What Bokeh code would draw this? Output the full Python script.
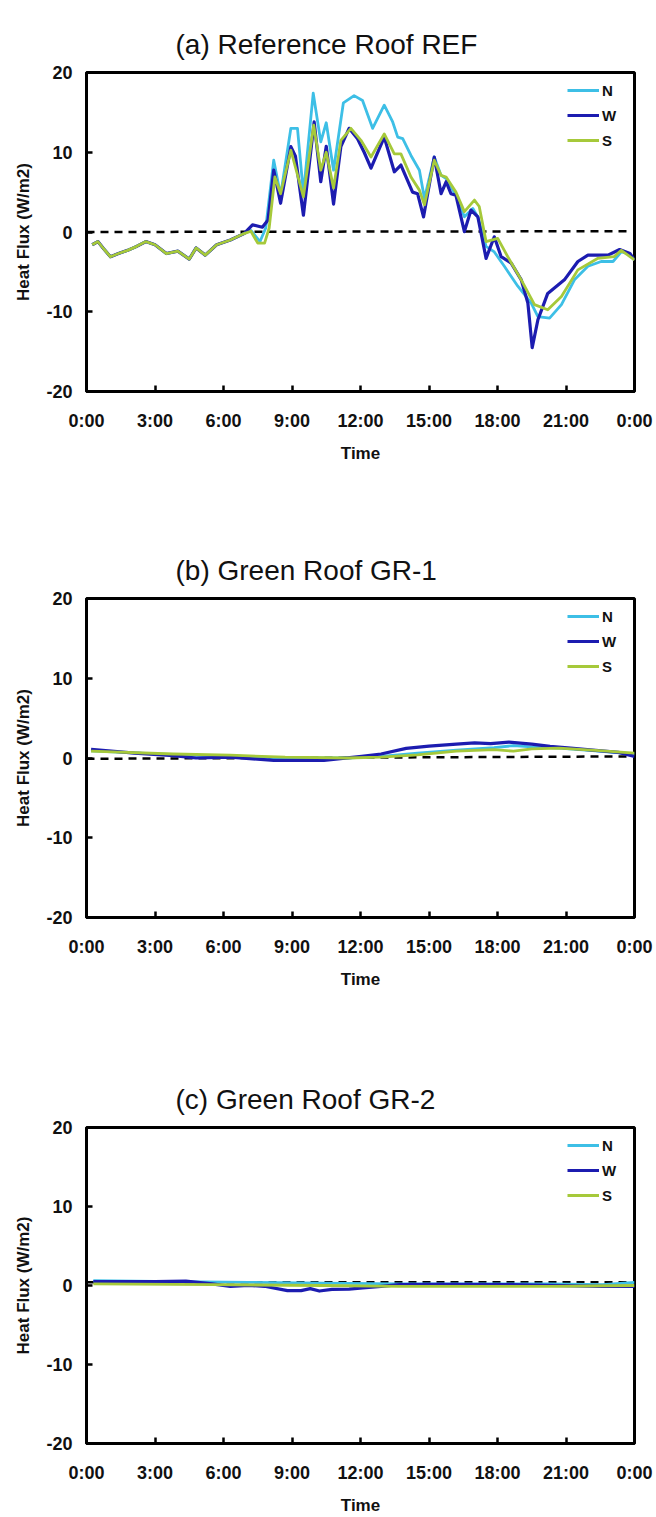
from bokeh.plotting import figure
from bokeh.layouts import column
from bokeh.models import FixedTicker
from bokeh.embed import file_html
from bokeh.resources import INLINE

FONT = "Liberation Sans"

# ---------------- data ----------------
tick_hours = [0, 3, 6, 9, 12, 15, 18, 21, 24]
tick_labels = ["0:00", "3:00", "6:00", "9:00", "12:00", "15:00", "18:00", "21:00", "0:00"]
y_ticks = [-20, -10, 0, 10, 20]
y_tick_labels = ["-20", "-10", "0", "10", "20"]
series_names = ["N", "W", "S"]
series_colors = ["#3DBFE6", "#1C1CB0", "#A6C93A"]
series_widths = [2.8, 3.2, 2.8]

titles = ["(a) Reference Roof REF", "(b) Green Roof GR-1", "(c) Green Roof GR-2"]

# night part of panel (a), common to the three sensors
night_t = [0.25, 0.5, 0.75, 1.05, 1.4, 1.8, 2.2, 2.6, 3.0, 3.5, 4.0, 4.5, 4.8, 5.2, 5.7, 6.3, 6.9]
night_v = [-1.6, -1.2, -2.1, -3.1, -2.7, -2.3, -1.8, -1.2, -1.6, -2.7, -2.4, -3.4, -2.0, -2.9, -1.6, -1.0, -0.2]

# panel (a) daytime / evening
a_N_t = [7.2, 7.6, 7.85, 8.2, 8.5, 8.95, 9.24, 9.5, 9.93, 10.26, 10.5, 10.82, 11.25, 11.72, 12.09,
         12.53, 13.04, 13.41, 13.63, 13.85, 14.21, 14.58, 14.8, 15.23, 15.53, 15.75, 16.18, 16.55,
         16.92, 17.14, 17.5, 17.86, 18.3, 18.89, 19.47, 19.77, 20.28, 20.8, 21.37, 21.96, 22.54,
         23.06, 23.42, 23.72, 24.0]
a_N_v = [0.2, -1.2, 0.5, 9.0, 4.6, 13.0, 13.0, 4.8, 17.4, 11.3, 13.7, 7.75, 16.2, 17.1, 16.5,
         13.0, 15.9, 13.8, 11.9, 11.7, 9.6, 7.75, 4.2, 9.4, 7.1, 6.7, 4.6, 1.9,
         2.95, 1.9, -1.8, -2.5, -4.3, -6.8, -8.9, -10.6, -10.8, -9.1, -6.0, -4.3, -3.7,
         -3.7, -2.5, -2.7, -3.5]

a_W_t = [7.27, 7.7, 7.95, 8.2, 8.5, 8.95, 9.15, 9.5, 9.97, 10.26, 10.5, 10.82, 11.14, 11.5, 11.87,
         12.16, 12.46, 13.04, 13.48, 13.77, 14.28, 14.5, 14.76, 15.23, 15.53, 15.75, 15.96, 16.18,
         16.55, 16.84, 17.14, 17.5, 17.86, 18.16, 18.6, 19.04, 19.33, 19.52, 19.77, 20.2, 20.93,
         21.52, 21.96, 22.84, 23.35, 23.8, 24.0]
a_W_v = [0.9, 0.6, 1.5, 7.75, 3.6, 10.7, 9.5, 2.1, 13.8, 6.3, 10.75, 3.5, 10.7, 13.0, 11.7,
         10.0, 8.0, 11.9, 7.55, 8.4, 5.0, 4.8, 1.9, 9.4, 4.8, 6.3, 4.8, 4.6,
         0.05, 2.75, 1.9, -3.3, -0.6, -3.1, -3.9, -6.0, -8.9, -14.5, -11.0, -7.7, -6.0,
         -3.7, -2.9, -2.9, -2.2, -2.7, -3.5]

a_S_t = [7.2, 7.5, 7.8, 8.0, 8.25, 8.5, 8.95, 9.5, 9.95, 10.26, 10.5, 10.82, 11.14, 11.58, 12.02,
         12.46, 13.04, 13.48, 13.77, 14.21, 14.58, 14.8, 15.23, 15.53, 15.75, 16.18, 16.55, 16.99,
         17.2, 17.5, 18.01, 18.45, 19.04, 19.62, 20.2, 20.8, 21.52, 22.4, 23.1, 23.42, 24.0]
a_S_v = [0.1, -1.4, -1.4, 0.5, 6.9, 4.8, 10.25, 4.4, 13.4, 7.75, 10.0, 5.5, 11.5, 13.0, 11.5,
         9.4, 12.3, 9.8, 9.8, 6.9, 5.25, 3.4, 9.0, 7.1, 6.9, 5.0, 2.55, 4.0,
         3.2, -1.2, -0.8, -3.1, -6.0, -9.1, -9.75, -8.1, -4.75, -3.3, -3.1, -2.3, -3.5]

# panel (b)
b_N_t = [0.2, 2.1, 4.1, 6.3, 8.7, 11.4, 12.9, 14.5, 16.2, 17.85, 18.7, 19.5, 20.7, 22.3, 24.0]
b_N_v = [0.9, 0.65, 0.4, 0.25, 0.0, 0.0, 0.2, 0.6, 1.0, 1.3, 1.55, 1.4, 1.25, 0.9, 0.5]
b_W_t = [0.2, 2.1, 3.8, 4.8, 6.3, 8.2, 10.4, 12.05, 12.9, 14.0, 15.0, 16.2, 17.0, 17.7, 18.5,
         19.5, 20.3, 21.2, 22.3, 23.3, 24.0]
b_W_v = [1.1, 0.6, 0.3, 0.0, 0.1, -0.3, -0.3, 0.2, 0.5, 1.2, 1.5, 1.75, 1.9, 1.8, 2.0,
         1.75, 1.45, 1.25, 0.95, 0.7, 0.2]
b_S_t = [0.2, 3.8, 6.3, 8.7, 11.4, 12.9, 14.5, 16.2, 17.85, 18.7, 19.5, 20.7, 22.3, 24.0]
b_S_v = [0.85, 0.5, 0.35, 0.1, 0.0, 0.1, 0.4, 0.85, 1.05, 0.85, 1.15, 1.25, 0.95, 0.6]

# panel (c)
c_N_t = [0.3, 3.9, 7.1, 10.4, 13.7, 17.0, 20.3, 22.6, 24.0]
c_N_v = [0.6, 0.5, 0.4, 0.3, 0.2, 0.2, 0.2, 0.1, 0.4]
c_W_t = [0.3, 3.0, 4.35, 5.5, 6.3, 7.1, 7.8, 8.8, 9.4, 9.8, 10.2, 10.75, 11.5, 12.1, 12.9, 13.7,
         15.3, 18.6, 22.6, 24.0]
c_W_v = [0.5, 0.5, 0.55, 0.2, -0.1, 0.0, -0.1, -0.65, -0.65, -0.4, -0.7, -0.5, -0.45, -0.3, -0.1, 0.1,
         0.15, 0.1, -0.1, -0.1]
c_S_t = [0.3, 5.5, 10.4, 13.7, 17.0, 20.3, 24.0]
c_S_v = [0.2, 0.1, 0.0, -0.1, -0.1, -0.1, 0.0]

# dashed reference lines
dash_t = [0.0, 23.8]
dash_v = [[0.0, 0.1], [-0.1, 0.2], [0.4, 0.4]]

panel_series = [
    [(night_t + a_N_t, night_v + a_N_v), (night_t + a_W_t, night_v + a_W_v), (night_t + a_S_t, night_v + a_S_v)],
    [(b_N_t, b_N_v), (b_W_t, b_W_v), (b_S_t, b_S_v)],
    [(c_N_t, c_N_v), (c_W_t, c_W_v), (c_S_t, c_S_v)],
]

fig_heights = [526, 526, 465]
fig_tops = [72, 72, 75]
FRAME_H = 319


def make_panel(i):
    h = fig_heights[i]
    top = fig_tops[i]
    p = figure(width=656, height=h, x_range=(0, 24), y_range=(-20, 20),
               output_backend="svg", toolbar_location=None,
               min_border_left=86, min_border_right=22,
               min_border_top=top, min_border_bottom=h - top - FRAME_H)
    p.background_fill_color = "white"
    p.border_fill_color = "white"
    p.xgrid.visible = False
    p.ygrid.visible = False
    p.outline_line_color = "black"
    p.outline_line_width = 3
    p.outline_line_alpha = 1.0

    p.title.text = titles[i]
    p.title.text_font = FONT
    p.title.text_font_size = "28px"
    p.title.text_font_style = "normal"
    p.title.text_color = "#111111"
    p.title.align = "left"
    p.title.offset = 89
    p.title.standoff = 26

    p.xaxis.ticker = FixedTicker(ticks=tick_hours)
    p.xaxis.major_label_overrides = dict(zip(tick_hours, tick_labels))
    p.yaxis.ticker = FixedTicker(ticks=y_ticks)
    p.yaxis.major_label_overrides = dict(zip(y_ticks, y_tick_labels))
    for ax in (p.xaxis[0], p.yaxis[0]):
        ax.axis_line_color = "black"
        ax.axis_line_width = 3
        ax.major_tick_in = 6
        ax.major_tick_out = 0
        ax.major_tick_line_width = 2.5
        ax.major_tick_line_color = "black"
        ax.minor_tick_line_color = None
        ax.major_label_text_font = FONT
        ax.major_label_text_font_size = "18px"
        ax.major_label_text_font_style = "bold"
        ax.major_label_text_color = "#111111"
        ax.axis_label_text_font = FONT
        ax.axis_label_text_font_style = "bold"
        ax.axis_label_text_color = "#111111"
    p.xaxis.major_label_standoff = 19
    p.yaxis.major_label_standoff = 14
    p.xaxis.axis_label = "Time"
    p.xaxis.axis_label_text_font_size = "17px"
    p.xaxis.axis_label_standoff = 10
    p.yaxis.axis_label = "Heat Flux (W/m2)"
    p.yaxis.axis_label_text_font_size = "17px"
    p.yaxis.axis_label_standoff = 10

    p.line(dash_t, dash_v[i], line_color="black", line_width=2.5, line_dash="8 6")

    for k, (t, v) in enumerate(panel_series[i]):
        p.line(t, v, line_color=series_colors[k], line_width=series_widths[k],
               line_join="round", legend_label=series_names[k])

    lg = p.legend[0]
    lg.location = "top_right"
    lg.margin = 0
    lg.padding = 8
    lg.spacing = 5
    lg.glyph_height = 20
    lg.label_height = 20
    lg.glyph_width = 32
    lg.label_standoff = 3
    lg.label_width = 24
    lg.border_line_alpha = 0
    lg.background_fill_alpha = 0
    lg.label_text_font = FONT
    lg.label_text_font_size = "15px"
    lg.label_text_font_style = "bold"
    lg.label_text_color = "#111111"
    return p


p = column(*[make_panel(i) for i in range(3)], spacing=0)

open("out.html", "w").write(file_html(p, INLINE))
